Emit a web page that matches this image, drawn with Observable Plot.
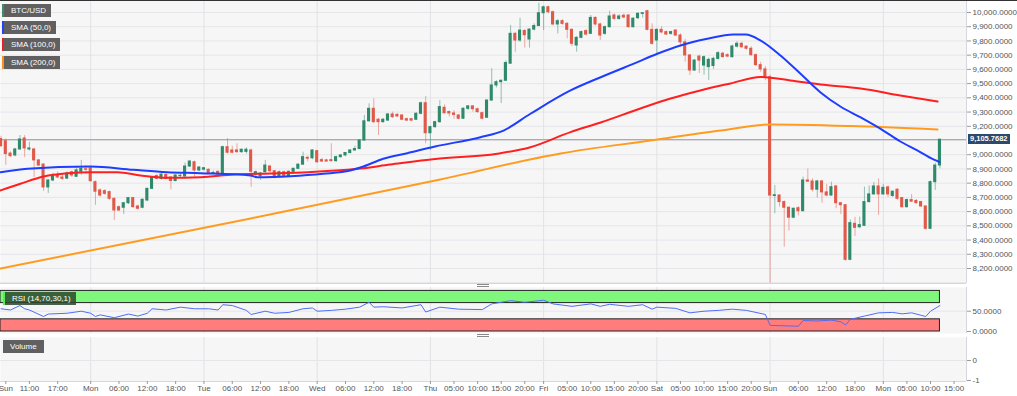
<!DOCTYPE html>
<html><head><meta charset="utf-8">
<script src="https://cdn.jsdelivr.net/npm/d3@7"></script>
<script src="https://cdn.jsdelivr.net/npm/@observablehq/plot@0.6"></script>
<style>
body{margin:0;background:#fff;font-family:"Liberation Sans",Arial,sans-serif;}
#wrap{position:relative;width:1017px;height:396px;overflow:hidden;background:#fff;}
.panel{position:absolute;left:0;}
.tag{position:absolute;height:13px;line-height:13px;padding:0 5px 0 7px;background:rgba(80,80,80,0.9);color:#fff;font-size:8px;white-space:nowrap;box-sizing:border-box;}
.handle{position:absolute;left:477px;width:12px;height:1px;border-top:1px solid #888;border-bottom:1px solid #888;}
</style></head>
<body><div id="wrap"></div>
<script>
(function(){
// ---------- data ----------
const firstHour = -1; // hourly candles, hour 0 = Sun 06:00
const opens = [
9110,9095,9008,8995,9037,9114,9037,9037,8960,8931,
8770,8819,8854,8840,8832,8877,8845,8880,8898,8905,
8807,8749,8744,8737,8690,8631,8627,8659,8695,8636,
8627,8678,8760,8850,8830,8858,8840,8815,8850,8847,
8917,8947,8889,8895,8894,8870,8880,8862,9053,9030,
9030,9018,9020,9030,8860,8850,8877,8917,8884,8847,
8877,8850,8880,8901,8930,8978,8975,9025,8962,8960,
8962,8955,8983,8995,9012,9030,9040,9100,9235,9323,
9246,9229,9240,9283,9280,9276,9250,9250,9246,9288,
9362,9151,9194,9229,9330,9300,9290,9276,9253,9323,
9340,9320,9292,9260,9381,9487,9510,9520,9640,9850,
9803,9870,9810,9880,9905,9995,10037,10002,9916,9939,
9920,9878,9768,9822,9869,9850,9962,9916,9850,9897,
9979,9955,9977,9979,9897,9960,9990,10009,9878,9803,
9878,9862,9850,9873,9838,9790,9698,9592,9690,9627,
9616,9624,9674,9710,9700,9686,9760,9780,9760,9745,
9700,9630,9600,9545,8710,8713,8667,8627,8557,8624,
8603,8819,8812,8754,8812,8735,8713,8777,8659,8645,
8261,8514,8490,8500,8667,8721,8777,8721,8770,8710,
8754,8695,8631,8681,8675,8667,8636,8479,8807,8924];
const highs = [
9130,9110,9020,9045,9135,9135,9088,9045,8965,8935,
8825,8870,8880,8865,8880,8885,8912,8960,8924,8912,
8815,8760,8755,8745,8695,8640,8665,8700,8700,8645,
8690,8765,8845,8860,8870,8865,8845,8860,8862,8941,
8960,8955,8915,8910,8900,8885,8885,9060,9114,9060,
9077,9040,9048,9040,8885,8875,8960,8925,8890,8885,
8885,8885,8905,8935,9018,8990,9035,9030,8975,8968,
9077,8990,9000,9015,9035,9060,9105,9276,9358,9393,
9255,9255,9290,9300,9290,9282,9258,9256,9295,9370,
9410,9200,9235,9380,9350,9308,9310,9282,9330,9345,
9345,9328,9300,9385,9604,9520,9525,9660,9909,9860,
9960,9880,9885,9920,10065,10045,10045,10010,9950,9950,
9930,9885,9830,9870,9880,9979,9970,9925,9905,10009,
9990,9985,9990,9985,9965,9998,10000,10015,9920,9885,
9900,9870,9868,9880,9850,9810,9705,9670,9700,9695,
9680,9685,9725,9720,9710,9770,9795,9790,9765,9760,
9710,9650,9620,9560,8784,8720,8675,8635,8625,8635,
8842,8900,8830,8820,8820,8790,8807,8785,8665,8650,
8542,8560,8561,8772,8780,8805,8830,8790,8780,8745,
8760,8700,8690,8720,8685,8672,8640,8815,8940,9106];
const lows = [
9050,8925,8980,8985,9030,8981,9025,8840,8915,8742,
8728,8810,8830,8820,8825,8840,8840,8855,8866,8805,
8643,8700,8715,8678,8538,8600,8580,8650,8625,8610,
8620,8670,8755,8825,8820,8825,8754,8810,8840,8840,
8910,8842,8880,8885,8860,8860,8840,8855,9005,9005,
9010,9010,9005,8770,8830,8820,8870,8875,8830,8840,
8840,8845,8870,8895,8925,8950,8965,8940,8945,8948,
8950,8945,8975,8985,9005,9025,9035,9095,9230,9218,
9135,9222,9235,9255,9262,9240,9235,9232,9240,9280,
9077,9030,9185,9220,9285,9265,9250,9245,9248,9310,
9300,9290,9245,9255,9375,9470,9360,9515,9635,9720,
9790,9750,9750,9870,9900,9873,9990,9905,9850,9910,
9815,9760,9721,9815,9835,9845,9905,9803,9840,9890,
9945,9945,9955,9890,9890,9950,9960,9870,9770,9710,
9850,9838,9840,9830,9755,9651,9557,9585,9571,9560,
9522,9600,9665,9680,9685,9680,9750,9745,9735,9690,
9620,9580,9520,8097,8585,8631,8350,8463,8550,8570,
8598,8807,8737,8695,8659,8705,8708,8620,8580,8251,
8255,8425,8480,8495,8660,8715,8573,8715,8700,8700,
8680,8625,8625,8665,8650,8630,8470,8475,8749,8901];
const closes = [
9060,9005,8990,9037,9107,9044,9044,8960,8924,8770,
8819,8854,8840,8830,8868,8854,8890,8901,8894,8814,
8740,8713,8725,8690,8608,8608,8659,8695,8631,8620,
8683,8760,8838,8830,8860,8830,8815,8854,8852,8917,
8952,8889,8910,8905,8870,8872,8862,9053,9014,9014,
9018,9035,9035,8880,8877,8868,8924,8884,8838,8877,
8847,8880,8901,8930,8983,8972,9030,8947,8952,8952,
8955,8983,8995,9012,9030,9040,9100,9235,9323,9229,
9229,9246,9283,9264,9269,9246,9240,9240,9288,9362,
9151,9194,9229,9335,9292,9290,9280,9253,9323,9340,
9320,9300,9253,9381,9487,9510,9520,9645,9850,9803,
9873,9840,9880,9905,9995,10037,10002,9916,9939,9920,
9878,9780,9822,9862,9845,9962,9916,9838,9897,9972,
9955,9972,9965,9897,9956,9991,9995,9878,9780,9878,
9860,9845,9862,9838,9790,9698,9592,9662,9662,9686,
9667,9674,9714,9686,9690,9761,9780,9756,9745,9700,
9630,9600,9545,8713,8715,8667,8627,8557,8620,8603,
8819,8810,8754,8812,8735,8713,8772,8659,8645,8261,
8519,8486,8505,8667,8721,8777,8721,8767,8721,8740,
8690,8631,8681,8670,8660,8636,8479,8807,8924,9105.7682];

const sma50Hours  = [-1.1,4.6,18,27,34.2,41.3,51.9,53.3,60.3,67.3,73,75.8,80,85.1,91,100.6,105.5,111.2,119.7,126.1,133,138.1,143,148.7,154.2,156.8,160,164.2,168.4,172.7,176.9,181.2,186,189.6,193.2,196.6,197.9];
const sma50Values = [8877,8901,8917,8894,8877,8870,8854,8842,8849,8866,8889,8917,8972,9011,9058,9123,9170,9288,9452,9545,9639,9710,9768,9815,9845,9845,9803,9698,9571,9438,9339,9262,9170,9093,9030,8967,8949];
const sma100Hours  = [-1.1,3.1,8,13.1,18,23.7,28.6,34.3,41.3,48.3,56.1,64,74.5,81.5,91,104.2,111.2,119.7,126.1,134.5,140.9,147.2,153.6,160,166.3,172.7,181.2,189.6,197.5];
const sma100Values = [8749,8796,8847,8870,8877,8877,8854,8838,8842,8861,8868,8877,8901,8931,8970,9007,9053,9159,9227,9325,9395,9452,9501,9547,9522,9494,9466,9417,9374];
const sma200Hours  = [-1.1,51.9,92.1,117.6,136.6,151.5,162.1,179,197.5];
const sma200Values = [8200,8552,8826,9009,9100,9170,9213,9202,9178];

const rsiHours  = [-1,1,3,4,5,8,9,13,16,18,19,20,23,26,28,30,31,34,37,40,43,45,46,48,51,52,55,57,60,63,65,66,69,72,75,77,78,80,84,88,89,92,96,101,103,107,110,114,116,120,124,126,128,132,135,137,138,142,145,148,151,154,157,161,162,165,168,169,172,175,177,178,179,182,185,188,190,192,194,195,196,198];
const rsiValues = [56,53,64,56,53,37,43,45,50,45,37,41,34,43,38,45,56,53,60,56,56,53,66,64,52,42,50,45,47,56,58,50,52,55,60,72,60,61,58,66,48,60,55,54,68,76,72,77,68,62,68,62,67,62,66,55,60,57,46,50,52,55,52,42,15,14,13,27,26,28,24,16,30,38,46,47,43.5,46,40,37,50,64];

const priceTicks = [8200,8300,8400,8500,8600,8700,8800,8900,9000,9200,9300,9400,9500,9600,9700,9800,9900,10000];
const gridPrices = [8100,8200,8300,8400,8500,8600,8700,8800,8900,9000,9100,9200,9300,9400,9500,9600,9700,9800,9900,10000];
const dayStartHours = [18,42,66,90,114,138,162,186];
const xTickHours  = [0,5,11,18,24,30,36,42,48,54,60,66,72,78,84,90,95,100,105,110,114,119,124,129,134,138,143,148,153,158,162,168,174,180,186,191,196,201];
const xTickLabels = ["Sun","11:00","17:00","Mon","06:00","12:00","18:00","Tue","06:00","12:00","18:00","Wed","06:00","12:00","18:00","Thu","05:00","10:00","15:00","20:00","Fri","05:00","10:00","15:00","20:00","Sat","05:00","10:00","15:00","20:00","Sun","06:00","12:00","18:00","Mon","05:00","10:00","15:00"];
const lastPrice = 9105.7682;
const legendNames = ["BTC/USD","SMA (50,0)","SMA (100,0)","SMA (200,0)"];
const legendColors = ["#3e8e6e","#2340ff","#e82222","#f5931d"];

// ---------- build ----------
const GREEN = "#2f8a6b", RED = "#e05a4a", BG = "#f6f6f7", GRID = "#e6e6ea";
const candles = opens.map((o,i)=>({h:i+firstHour, open:o, high:highs[i], low:lows[i], close:closes[i]}));
const up = candles.filter(d=>d.close>=d.open), down = candles.filter(d=>d.close<d.open);
const pts = (hs,vs)=>hs.map((h,i)=>({h, v:vs[i]}));
const X_DOMAIN = [-1.123, 203.63];
const lastHour = candles[candles.length-1].h;
const font = {fontSize:"8px", fontFamily:"'Liberation Sans',Arial,sans-serif", color:"#555", background:"transparent", overflow:"visible"};
const wrap = document.getElementById("wrap");

function place(el, t){ el.classList.add("panel"); el.style.top = t+"px"; wrap.appendChild(el); }

const candleMarks = [
  Plot.ruleX(up,   {x:"h", y1:"low", y2:"high", stroke:GREEN, strokeOpacity:0.5}),
  Plot.ruleX(down, {x:"h", y1:"low", y2:"high", stroke:RED, strokeOpacity:0.5}),
  Plot.rect(up,   {x1:d=>d.h-0.33, x2:d=>d.h+0.33, y1:"open", y2:"close", fill:GREEN, insetTop:-0.5, insetBottom:-0.5}),
  Plot.rect(down, {x1:d=>d.h-0.33, x2:d=>d.h+0.33, y1:"open", y2:"close", fill:RED, insetTop:-0.5, insetBottom:-0.5})
];

const main = Plot.plot({
  width:1017, height:283, marginLeft:0, marginRight:51, marginTop:0, marginBottom:0,
  style:font,
  x:{domain:X_DOMAIN, axis:null},
  y:{domain:[8094.5, 10084.4]},
  marks:[
    Plot.frame({fill:BG, stroke:null}),
    Plot.ruleY(gridPrices, {stroke:GRID}),
    Plot.ruleX(dayStartHours, {stroke:"#e2e2e6"}),
    Plot.ruleY([lastPrice], {stroke:"#9b9ba2"}),
    ...candleMarks,
    Plot.line(pts(sma200Hours,sma200Values), {x:"h", y:"v", stroke:"#ff9c1f", strokeWidth:2, curve:"monotone-x"}),
    Plot.line(pts(sma100Hours,sma100Values), {x:"h", y:"v", stroke:"#ff1f1f", strokeWidth:2, curve:"monotone-x"}),
    Plot.line(pts(sma50Hours,sma50Values), {x:"h", y:"v", stroke:"#1f3dff", strokeWidth:2, curve:"monotone-x"}),
    Plot.ruleX([X_DOMAIN[1]], {stroke:"#d6d6de"}),
    Plot.ruleY([8094.5], {stroke:"#d6d6de"}),
    Plot.axisY({anchor:"right", ticks:priceTicks, tickFormat:d3.format(",.4f"), tickSize:4, tickPadding:2, label:null, stroke:"#999", fill:"#555"})
  ]
});
place(main, 0);

const rsi = Plot.plot({
  width:1017, height:46, marginLeft:0, marginRight:51, marginTop:0, marginBottom:0,
  style:font,
  x:{domain:X_DOMAIN, axis:null},
  y:{domain:[-4.9, 108.4]},
  marks:[
    Plot.frame({fill:BG, stroke:null}),
    Plot.ruleX(dayStartHours, {stroke:"#e2e2e6"}),
    Plot.ruleY([50], {stroke:GRID}),
    Plot.rect([{a:70,b:100}], {x1:X_DOMAIN[0], x2:lastHour, y1:"a", y2:"b", fill:"#7ff77c", stroke:"#222", strokeWidth:1}),
    Plot.rect([{a:0,b:30}], {x1:X_DOMAIN[0], x2:lastHour, y1:"a", y2:"b", fill:"#ff7d7d", stroke:"#222", strokeWidth:1}),
    Plot.line(pts(rsiHours,rsiValues), {x:"h", y:"v", stroke:"#4d6ef7", strokeWidth:1, curve:"linear"}),
    Plot.ruleX([X_DOMAIN[1]], {stroke:"#d6d6de"}),
    Plot.axisY({anchor:"right", ticks:[50,0], tickFormat:d3.format(".4f"), tickSize:4, tickPadding:2, label:null, stroke:"#999", fill:"#555"})
  ]
});
place(rsi, 287);

const labelMap = new Map(xTickHours.map((h,i)=>[h, xTickLabels[i]]));
const vol = Plot.plot({
  width:1017, height:59, marginLeft:0, marginRight:51, marginTop:0, marginBottom:15,
  style:font,
  x:{domain:X_DOMAIN},
  y:{domain:[-1.05, 1.15]},
  marks:[
    Plot.frame({fill:BG, stroke:null}),
    Plot.ruleX(dayStartHours, {stroke:"#e2e2e6"}),
    Plot.ruleY([0], {stroke:GRID}),
    Plot.ruleX([X_DOMAIN[1]], {stroke:"#d6d6de"}),
    Plot.ruleY([-1.05], {stroke:"#d6d6de"}),
    Plot.axisY({anchor:"right", ticks:[0,-1], tickFormat:d=>String(d), tickSize:4, tickPadding:2, label:null, stroke:"#999", fill:"#555"}),
    Plot.axisX({ticks:xTickHours, tickFormat:d=>labelMap.get(d), tickSize:3, tickPadding:1, label:null, stroke:"#999", fill:"#555"})
  ]
});
place(vol, 337);

const topLine = document.createElement("div");
topLine.style.cssText = "position:absolute;left:0;top:0;width:1017px;height:1px;background:#333;";
wrap.appendChild(topLine);

[284, 334].forEach(t=>{ const h=document.createElement("div"); h.className="handle"; h.style.top=t+"px"; wrap.appendChild(h); });

const tagTops = [4, 21, 38, 56];
legendNames.forEach((n,i)=>{
  const t=document.createElement("div"); t.className="tag"; t.textContent=n;
  t.style.top=tagTops[i]+"px"; t.style.left="2px"; t.style.borderLeft="2px solid "+legendColors[i];
  wrap.appendChild(t);
});
const rt=document.createElement("div"); rt.className="tag"; rt.textContent="RSI (14,70,30,1)";
rt.style.top="292px"; rt.style.left="3px"; rt.style.background="rgba(45,70,45,0.85)"; rt.style.borderLeft="2px solid #55ee55";
wrap.appendChild(rt);
const vt=document.createElement("div"); vt.className="tag"; vt.textContent="Volume";
vt.style.top="340px"; vt.style.left="3px"; vt.style.width="41px";
wrap.appendChild(vt);

const py = main.scale("y").apply(lastPrice);
const pl=document.createElement("div");
pl.textContent=d3.format(",.4f")(lastPrice);
pl.style.cssText=`position:absolute;left:968px;top:${py-5}px;height:10px;line-height:10px;padding:0 2px;background:#2b4a6e;color:#fff;font-size:7.5px;font-weight:bold;`;
wrap.appendChild(pl);
})();
</script>
</body></html>
